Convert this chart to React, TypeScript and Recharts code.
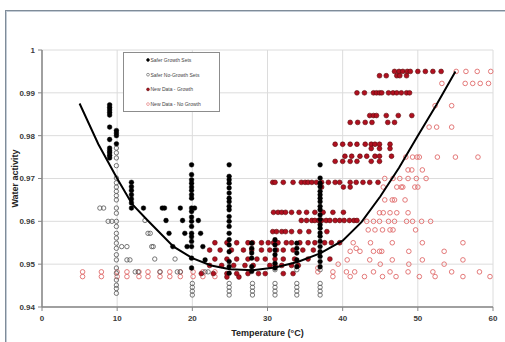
import React from "react";
import { ScatterChart, Scatter, XAxis, YAxis, CartesianGrid, Label } from "recharts";

const xTicks = [0, 10, 20, 30, 40, 50, 60];
const yTicks = [0.94, 0.95, 0.96, 0.97, 0.98, 0.99, 1];

// Safer growth sets (black filled): columns [temperature, water activities]
const saferGrowthCols: [number, number[]][] = [
  [9.0, [0.9872, 0.9866, 0.986, 0.9854, 0.9848, 0.982, 0.9791, 0.9771, 0.9765, 0.976, 0.9754, 0.9748]],
  [9.9, [0.9812, 0.9806, 0.98, 0.9781]],
  [11.9, [0.9691, 0.9681, 0.9672, 0.9662, 0.9652, 0.9643, 0.9631]],
  [19.9, [0.9732, 0.9709, 0.9697, 0.9689, 0.968, 0.9672, 0.9662, 0.9654, 0.9631, 0.9623, 0.961, 0.96, 0.9588, 0.9572, 0.9564, 0.9553, 0.9541, 0.9514, 0.9491]],
  [24.9, [0.9732, 0.9705, 0.9697, 0.9689, 0.9678, 0.9666, 0.9654, 0.9646, 0.9635, 0.9627, 0.9611, 0.96, 0.9588, 0.9572, 0.9557, 0.9545, 0.9529, 0.9506, 0.9494, 0.9479]],
  [27.9, [0.9549, 0.9537, 0.9526, 0.9514, 0.9494, 0.9483]],
  [31.0, [0.9557, 0.9545, 0.9533, 0.9522, 0.9502, 0.9491]],
  [33.9, [0.9549, 0.9537, 0.9526, 0.951, 0.9494]],
  [37.0, [0.9732, 0.9701, 0.9689, 0.9681, 0.967, 0.9662, 0.9654, 0.9646, 0.9635, 0.9627, 0.9615, 0.9604, 0.9592, 0.9584, 0.9573, 0.9565, 0.9553, 0.9541, 0.9529, 0.9518, 0.9506, 0.9494]],
];
const saferGrowthSingles: [number, number][] = [
  [13.5, 0.9631], [16.0, 0.9631], [16.3, 0.9631], [16.5, 0.9602], [16.9, 0.9572], [17.4, 0.9541],
  [18.4, 0.9631], [18.7, 0.9602], [19.0, 0.9572], [19.3, 0.9541], [20.3, 0.9631], [20.8, 0.9602],
  [21.1, 0.9572], [21.4, 0.9541], [21.7, 0.951],
];

// Safer no-growth sets (black open)
const saferNoGrowthCols: [number, number[]][] = [
  [9.9, [0.9771, 0.976, 0.9748, 0.973, 0.9701, 0.969, 0.968, 0.967, 0.966, 0.965, 0.9631, 0.9619, 0.96, 0.9588, 0.9572, 0.9561, 0.9549, 0.9537, 0.9522, 0.951, 0.9491, 0.9479, 0.9463, 0.9451, 0.9443, 0.9432]],
  [20.0, [0.9455, 0.9446, 0.9437, 0.9428]],
  [24.9, [0.9455, 0.9446, 0.9437, 0.9428]],
  [28.0, [0.9455, 0.9446, 0.9437, 0.9428]],
  [31.0, [0.9455, 0.9446, 0.9437, 0.9428]],
  [33.9, [0.9455, 0.9446, 0.9437, 0.9428]],
  [37.0, [0.9455, 0.9446, 0.9437, 0.9428]],
];
const saferNoGrowthSingles: [number, number][] = [
  [7.7, 0.9631], [8.2, 0.9631], [8.8, 0.96], [9.3, 0.96], [10.6, 0.9541], [11.3, 0.9541],
  [11.3, 0.951], [11.7, 0.951], [12.4, 0.9482], [12.8, 0.9482], [13.7, 0.9602], [14.1, 0.9572],
  [14.4, 0.9572], [14.6, 0.9541], [14.8, 0.9541], [15.0, 0.9512], [17.7, 0.9512], [15.7, 0.9482],
  [18.0, 0.9482], [18.4, 0.9482], [21.7, 0.9482], [22.1, 0.9482], [31.0, 0.9487], [33.9, 0.9487],
  [37.0, 0.9487],
];

// New data - growth (dark red filled): rows [water activity, temperatures]
const newGrowthRows: [number, number[]][] = [
  [0.995, [46.9, 47.5, 48.0, 48.6, 49.0, 50.0, 51.0, 52.0, 53.1]],
  [0.994, [44.9, 45.8, 47.2, 47.6, 48.5]],
  [0.99, [41.9, 42.9, 44.1, 44.5, 44.9, 45.2, 46.1, 46.7, 47.2, 47.8, 48.5, 48.9]],
  [0.9847, [43.6, 44.1, 44.5, 45.8, 47.4, 49.2]],
  [0.9831, [41.0, 42.0, 43.0, 43.9, 46.0, 46.9]],
  [0.978, [39.0, 40.0, 41.0, 41.9, 43.0, 43.8, 44.3, 44.9, 46.3]],
  [0.977, [43.8, 44.9, 46.3]],
  [0.9752, [40.3, 41.2, 42.3, 43.2, 44.3, 44.9, 46.5]],
  [0.974, [39.0, 40.0, 41.0, 41.9, 43.8, 44.9]],
  [0.9691, [30.7, 31.0, 32.1, 33.4, 34.5, 35.0, 35.4, 35.9, 36.5, 37.2, 38.1, 39.0, 39.6, 41.0, 41.8, 42.7, 43.6, 44.7]],
  [0.968, [37.2, 40.1, 41.0]],
  [0.9621, [30.8, 31.4, 31.9, 32.4, 33.2, 34.2, 35.2, 36.3, 37.4, 38.7, 40.1]],
  [0.9602, [34.5, 35.2, 35.9, 36.3, 36.8, 37.2, 37.8, 38.3, 39.0, 39.6, 40.2, 40.9, 41.5, 41.9]],
  [0.9576, [30.7, 31.2, 31.9, 32.4, 33.2, 34.3, 35.5, 37.9]],
  [0.955, [23.0, 24.6, 25.9, 27.4, 28.0, 29.2, 30.1, 30.8, 31.4, 32.5, 33.2, 34.3, 35.4, 36.3, 37.6, 38.5, 39.6]],
  [0.9533, [22.3, 23.7, 25.2, 26.8, 27.9, 29.2, 30.3, 31.2, 32.1, 33.4, 34.7, 36.1]],
  [0.9512, [23.0, 24.6, 25.9, 27.4, 28.6, 29.7, 31.0, 32.1, 33.6, 35.4, 38.3]],
  [0.9497, [22.3, 23.9, 25.5, 27.0, 28.1, 30.3, 31.0, 31.9, 33.2, 34.1]],
  [0.9478, [21.2, 22.8, 24.6, 25.9, 27.4, 28.8, 29.7, 32.1, 33.4]],
  [0.947, [24.6, 26.2]],
];

// New data - no growth (light red open)
const newNoGrowthRows: [number, number[]][] = [
  [0.995, [55.1, 56.4, 57.9, 59.7]],
  [0.9922, [53.2, 56.3, 57.3, 58.3, 59.4]],
  [0.987, [52.3, 54.5]],
  [0.982, [51.5, 52.5, 54.5]],
  [0.975, [48.4, 49.3, 49.9, 50.2, 52.6, 55.0, 58.0]],
  [0.972, [48.7, 49.2, 50.6]],
  [0.97, [45.6, 46.7, 47.6, 48.7, 49.8, 51.1]],
  [0.968, [45.4, 47.2, 47.8, 48.0, 49.6, 50.0]],
  [0.965, [45.6, 46.6, 46.9, 48.3]],
  [0.962, [44.9, 45.4, 46.3, 47.2, 48.7]],
  [0.96, [43.2, 44.1, 44.9, 46.1, 46.9, 48.5, 49.3, 50.5, 51.7]],
  [0.958, [43.4, 44.3, 45.3, 46.3, 46.7, 49.7]],
  [0.955, [41.4, 43.7, 46.6, 50.6, 56.0]],
  [0.9537, [41.8]],
  [0.953, [41.0, 42.3, 44.1, 44.9, 45.2, 48.8, 53.5]],
  [0.951, [40.6, 43.6, 46.6, 50.6, 56.0]],
  [0.95, [39.4, 45.0, 48.8, 53.5]],
  [0.9491, [36.7]],
  [0.9482, [5.4, 7.9, 10.0, 11.3, 12.9, 14.1, 15.7, 17.0, 18.4, 20.1, 21.4, 23.0, 36.7, 38.7, 40.5, 41.6, 44.1, 46.3, 48.7, 52.0, 54.5, 58.2]],
  [0.9471, [5.4, 7.9, 10.0, 11.3, 12.9, 14.1, 15.7, 17.0, 18.4, 20.1, 21.4, 23.0, 38.7, 41.0, 42.9, 45.3, 47.1, 50.2, 52.3, 56.0, 59.6]],
];

// fitted boundary curve
const curveT = [5, 7.5, 10, 12, 14, 17.5, 20, 22.5, 25, 28, 31, 34, 37, 40, 42.5, 45, 47.5, 50, 52.5, 55];
const curveAw = [0.9875, 0.978, 0.97, 0.964, 0.9603, 0.9541, 0.9514, 0.9497, 0.9488, 0.9486, 0.9492, 0.9505, 0.9525, 0.9555, 0.9598, 0.9658, 0.9725, 0.98, 0.9873, 0.995];

const fromCols = (c: [number, number[]][]) => c.flatMap(([x, ys]) => ys.map((y) => ({ x, y })));
const fromRows = (r: [number, number[]][]) => r.flatMap(([y, xs]) => xs.map((x) => ({ x, y })));
const fromPairs = (p: [number, number][]) => p.map(([x, y]) => ({ x, y }));

const saferGrowth = [...fromCols(saferGrowthCols), ...fromPairs(saferGrowthSingles)];
const saferNoGrowth = [...fromCols(saferNoGrowthCols), ...fromPairs(saferNoGrowthSingles)];
const newGrowth = fromRows(newGrowthRows);
const newNoGrowth = fromRows(newNoGrowthRows);
const curve = curveT.map((x, i) => ({ x, y: curveAw[i] }));

const dot = (fill: string, stroke: string, r: number, sw: number) => (p: any) =>
  <circle cx={p.cx} cy={p.cy} r={r} fill={fill} stroke={stroke} strokeWidth={sw} />;

const FONT = "'Liberation Sans', Arial, sans-serif";
const tickStyle = { fontSize: 8, fontWeight: 700, fill: "#3a3a3a", fontFamily: FONT };

const legendItems = [
  { label: "Safer Growth Sets", fill: "#000", stroke: "#000" },
  { label: "Safer No-Growth Sets", fill: "none", stroke: "#555" },
  { label: "New Data - Growth", fill: "#b01020", stroke: "#5a0a0a" },
  { label: "New Data - No Growth", fill: "none", stroke: "#e06b6b" },
];

export default function App() {
  return (
    <div style={{ position: "fixed", left: 0, top: 0, width: 505, height: 342, background: "#fff", overflow: "hidden" }}>
      <div
        style={{
          position: "absolute", left: 5, top: 10, width: 520, height: 360,
          borderLeft: "1px solid #7f8c99", borderTop: "1px solid #7f8c99",
          boxShadow: "inset 1px 1px 0 #c3ccd6",
        }}
      />
      <ScatterChart width={505} height={342} margin={{ top: 50, right: 12, bottom: 0, left: 6 }}>
        <CartesianGrid stroke="#dcdcdc" strokeWidth={1} />
        <XAxis
          type="number" dataKey="x" domain={[0, 60]} ticks={xTicks} height={35}
          tick={tickStyle} tickSize={4} tickMargin={4}
          axisLine={{ stroke: "#868686", strokeWidth: 1.5 }} tickLine={{ stroke: "#868686" }}
        >
          <Label value="Temperature (°C)" position="insideBottom" offset={6}
            style={{ fontSize: 9, fontWeight: 700, fill: "#222", fontFamily: FONT }} />
        </XAxis>
        <YAxis
          type="number" dataKey="y" domain={[0.94, 1]} ticks={yTicks} width={36} allowDataOverflow
          tick={tickStyle} tickSize={4} tickMargin={3}
          tickFormatter={(v: number) => String(+v.toFixed(2))}
          axisLine={{ stroke: "#868686", strokeWidth: 1.5 }} tickLine={{ stroke: "#868686" }}
        >
          <Label value="Water activity" angle={-90} position="insideLeft" offset={9}
            style={{ textAnchor: "middle", fontSize: 9, fontWeight: 700, fill: "#222", fontFamily: FONT }} />
        </YAxis>
        <Scatter data={newNoGrowth} shape={dot("none", "#e06b6b", 2.3, 0.9)} isAnimationActive={false} />
        <Scatter data={newGrowth} shape={dot("#b01020", "#5a0a0a", 2.4, 0.6)} isAnimationActive={false} />
        <Scatter data={saferNoGrowth} shape={dot("none", "#555", 2.2, 0.8)} isAnimationActive={false} />
        <Scatter data={saferGrowth} shape={dot("#000", "#000", 2.4, 0.4)} isAnimationActive={false} />
        <Scatter data={curve} shape={() => <g />} line={{ stroke: "#000", strokeWidth: 2 }} isAnimationActive={false} />
      </ScatterChart>
      <svg style={{ position: "absolute", left: 123, top: 52 }} width={97} height={60}>
        <rect x={0.5} y={0.5} width={96} height={59} fill="#fff" stroke="#8c8c8c" />
        {legendItems.map((it, i) => (
          <g key={it.label} transform={`translate(0, ${8 + i * 14.7})`}>
            <circle cx={25} cy={0} r={1.4} fill={it.fill} stroke={it.stroke} strokeWidth={0.6} />
            <text x={27.5} y={1.8} fontSize={5} fill="#444" fontFamily={FONT}>{it.label}</text>
          </g>
        ))}
      </svg>
    </div>
  );
}
